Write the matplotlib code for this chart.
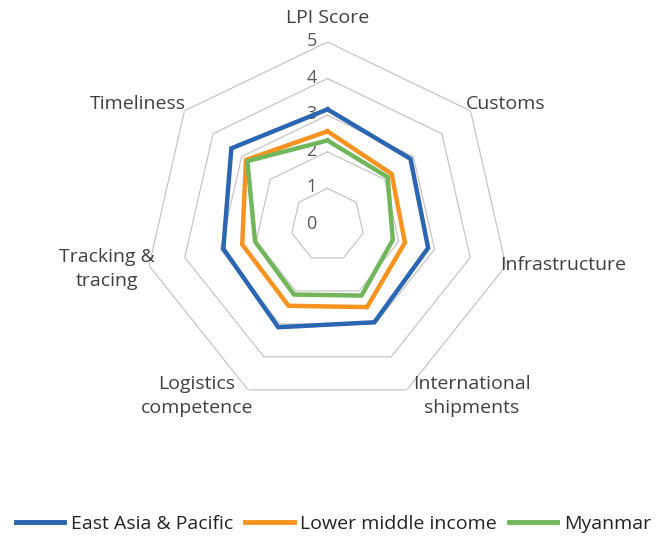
import numpy as np
import matplotlib.pyplot as plt
from matplotlib.lines import Line2D

plt.rcParams['font.family'] = ['Open Sans', 'DejaVu Sans']

categories = ["LPI Score", "Customs", "Infrastructure", "International\nshipments",
              "Logistics\ncompetence", "Tracking &\ntracing", "Timeliness"]
east_asia = [3.16, 2.90, 2.82, 2.95, 3.10, 2.92, 3.36]
lower_middle = [2.56, 2.24, 2.17, 2.49, 2.45, 2.39, 2.85]
myanmar = [2.31, 2.10, 1.83, 2.14, 2.11, 2.03, 2.80]
series_names = ["East Asia & Pacific", "Lower middle income", "Myanmar"]
ticks = [0, 1, 2, 3, 4, 5]

colors = ["#2a66b1", "#f7931e", "#72b65b"]

W, H = 667, 539
fig = plt.figure(figsize=(W / 100, H / 100), dpi=100)

# polar axes placed so the centre sits at (327.5, 225) px, radius 183 px
cx, cy, R = 327.5, 225, 183
ax = fig.add_axes([(cx - R) / W, (H - cy - R) / H, 2 * R / W, 2 * R / H], projection="polar")
ax.set_theta_offset(np.pi / 2)
ax.set_theta_direction(-1)
ax.set_ylim(0, 5)
ax.axis("off")

n = len(categories)
angles = np.linspace(0, 2 * np.pi, n, endpoint=False)
closed = np.append(angles, angles[0])

# heptagon grid
for t in ticks[1:]:
    ax.plot(closed, [t] * (n + 1), color="#c6c6c6", lw=0.9, zorder=1)

# value labels left of the top axis
for t in ticks:
    ax.annotate(str(t), (0, t), xytext=(-16, 1), textcoords="offset pixels",
                ha="center", va="center", fontsize=13, color="#595959")

for vals, col in zip([east_asia, lower_middle, myanmar], colors):
    v = np.append(vals, vals[0])
    ax.plot(closed, v, color=col, lw=3.2, solid_joinstyle="miter", zorder=3)

# category labels (pixel positions of the label centres)
label_pos = [(328, 18), (506, 104), (563, 265), (472, 396),
             (197, 396), (107, 269), (138, 104)]
for lab, (px, py) in zip(categories, label_pos):
    fig.text(px / W, 1 - py / H, lab, ha="center", va="center",
             fontsize=14, color="#404040", linespacing=1.45)

handles = [Line2D([], [], color=c, lw=3.5) for c in colors]
fig.legend(handles, series_names, loc="center", bbox_to_anchor=(0.5, 1 - 524 / H),
           ncol=3, frameon=False, fontsize=14, handlelength=2.5, handletextpad=0.35,
           columnspacing=0.6, labelcolor="#222222")

fig.savefig("out.png", dpi=100)
